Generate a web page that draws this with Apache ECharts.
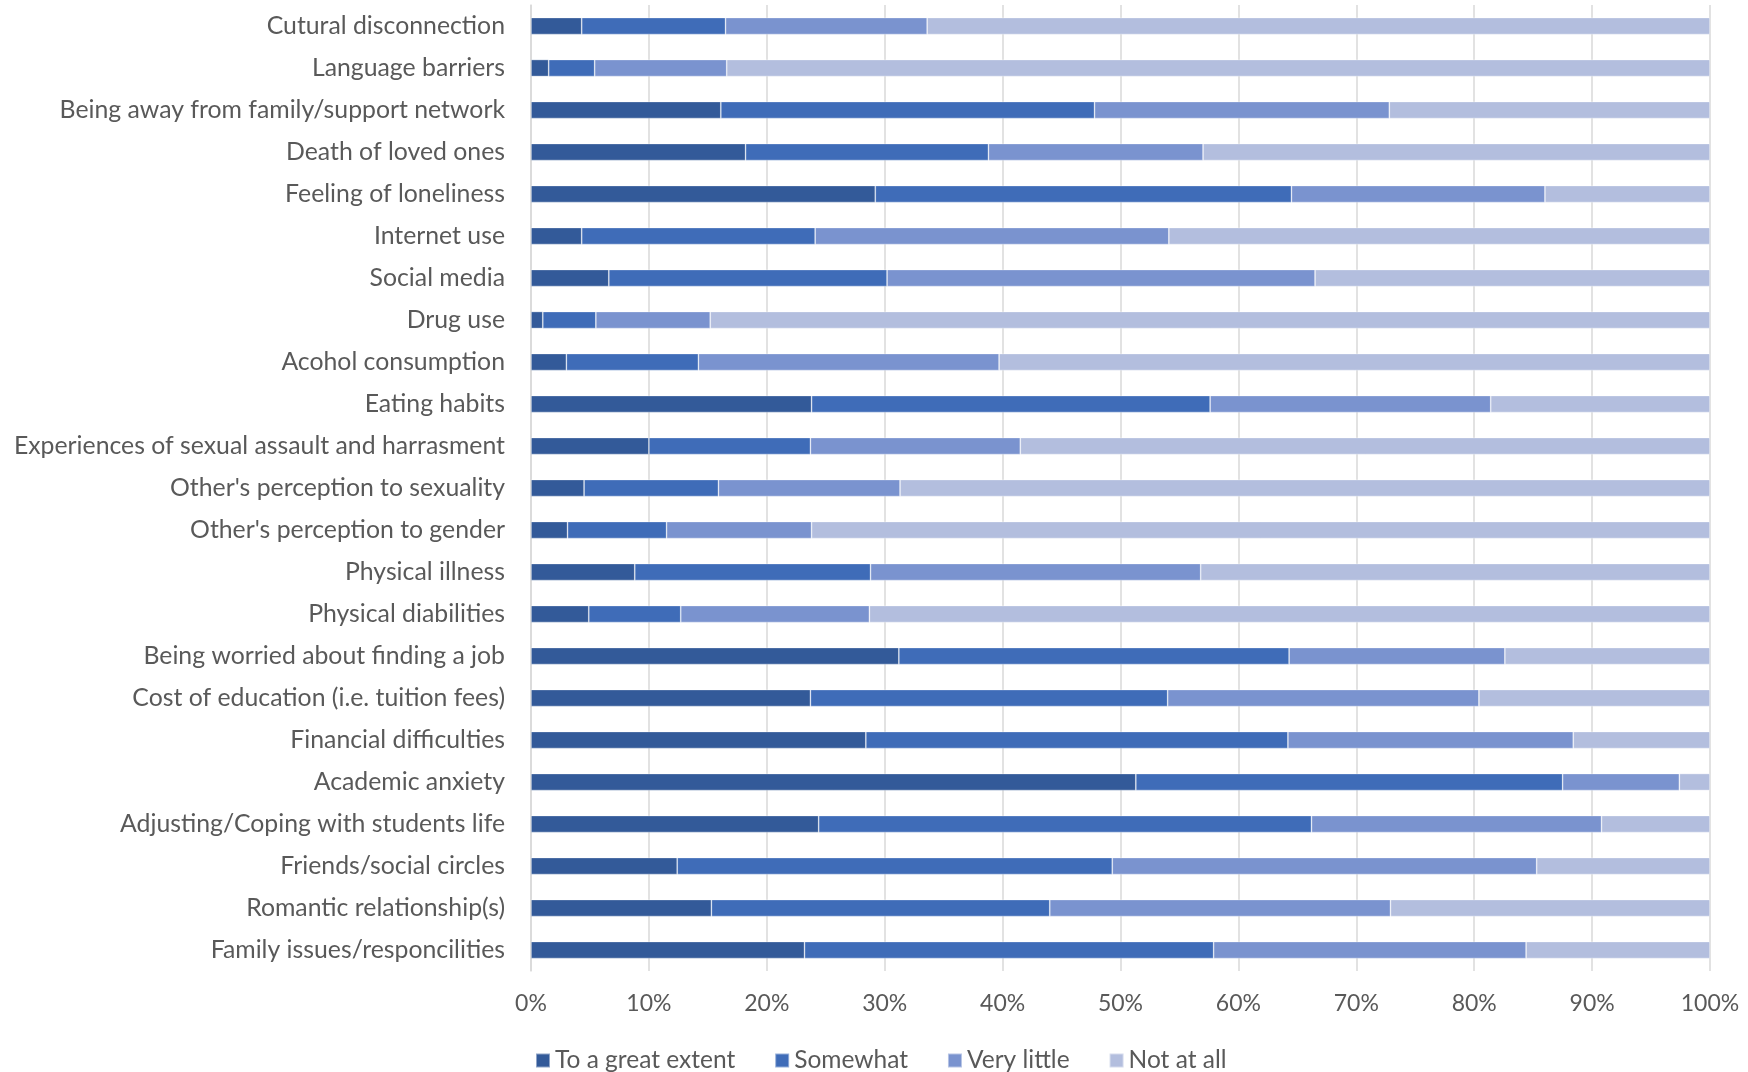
<!DOCTYPE html>
<html>
<head>
<meta charset="utf-8">
<script src="https://cdn.jsdelivr.net/npm/echarts@6/dist/echarts.min.js"></script>
<style>
html,body{margin:0;padding:0;background:#fff;}
#chart{width:1748px;height:1072px;}
</style>
</head>
<body>
<div id="chart"></div>
<script>
var categories = [
  "Cutural disconnection",
  "Language barriers",
  "Being away from family/support network",
  "Death of loved ones",
  "Feeling of loneliness",
  "Internet use",
  "Social media",
  "Drug use",
  "Acohol consumption",
  "Eating habits",
  "Experiences of sexual assault and harrasment",
  "Other's perception to sexuality",
  "Other's perception to gender",
  "Physical illness",
  "Physical diabilities",
  "Being worried about finding a job",
  "Cost of education (i.e. tuition fees)",
  "Financial difficulties",
  "Academic anxiety",
  "Adjusting/Coping with students life",
  "Friends/social circles",
  "Romantic relationship(s)",
  "Family issues/responcilities"
];
var seriesNames = ["To a great extent", "Somewhat", "Very little", "Not at all"];
var greatExtent = [4.3, 1.5, 16.1, 18.2, 29.2, 4.3, 6.6, 1.0, 3.0, 23.8, 10.0, 4.5, 3.1, 8.8, 4.9, 31.2, 23.7, 28.4, 51.3, 24.4, 12.4, 15.3, 23.2];
var somewhat    = [12.2, 3.9, 31.7, 20.6, 35.3, 19.8, 23.6, 4.5, 11.2, 33.8, 13.7, 11.4, 8.4, 20.0, 7.8, 33.1, 30.3, 35.8, 36.2, 41.8, 36.9, 28.7, 34.7];
var veryLittle  = [17.1, 11.2, 25.0, 18.2, 21.5, 30.0, 36.3, 9.7, 25.5, 23.8, 17.8, 15.4, 12.3, 28.0, 16.0, 18.3, 26.4, 24.2, 9.9, 24.6, 36.0, 28.9, 26.5];
var notAtAll    = [66.4, 83.4, 27.2, 43.0, 14.0, 45.9, 33.5, 84.8, 60.3, 18.6, 58.5, 68.7, 76.2, 43.2, 71.3, 17.4, 19.6, 11.6, 2.6, 9.2, 14.7, 27.1, 15.6];
var xTicks = [0, 10, 20, 30, 40, 50, 60, 70, 80, 90, 100];

var colors = ["#335A99", "#3F6CB8", "#7A93CF", "#B3BEDE"];
var values = [greatExtent, somewhat, veryLittle, notAtAll];

var chart = echarts.init(document.getElementById('chart'), null, {renderer: 'canvas'});
var fontFam = 'Lato, "Noto Sans", sans-serif';
var option = {
  animation: false,
  backgroundColor: '#ffffff',
  color: colors,
  grid: {left: 531, right: 38, top: 5, bottom: 101, containLabel: false},
  xAxis: {
    type: 'value',
    min: xTicks[0],
    max: xTicks[xTicks.length - 1],
    interval: 10,
    axisLine: {show: false},
    axisTick: {show: false},
    splitLine: {show: true, lineStyle: {color: '#d9d9d9', width: 1.5}},
    axisLabel: {
      formatter: function (v) { return v + '%'; },
      color: '#595959',
      fontFamily: fontFam,
      fontSize: 23,
      margin: 21
    }
  },
  yAxis: {
    type: 'category',
    data: categories,
    inverse: true,
    axisLine: {show: true, lineStyle: {color: '#d9d9d9', width: 1.5}},
    axisTick: {show: false},
    axisLabel: {
      color: '#595959',
      fontFamily: fontFam,
      fontSize: 24.8,
      margin: 26
    }
  },
  legend: {
    left: 530,
    top: 1043,
    itemWidth: 14,
    itemHeight: 14,
    itemGap: 39,
    icon: 'rect',
    textStyle: {color: '#595959', fontFamily: fontFam, fontSize: 24.5},
    data: seriesNames
  },
  series: seriesNames.map(function (name, i) {
    return {
      name: name,
      type: 'bar',
      stack: 'total',
      barWidth: 17,
      data: values[i],
      itemStyle: {color: colors[i], borderColor: 'rgba(255,255,255,0.45)', borderWidth: 0.75}
    };
  })
};
chart.setOption(option);
</script>
</body>
</html>
